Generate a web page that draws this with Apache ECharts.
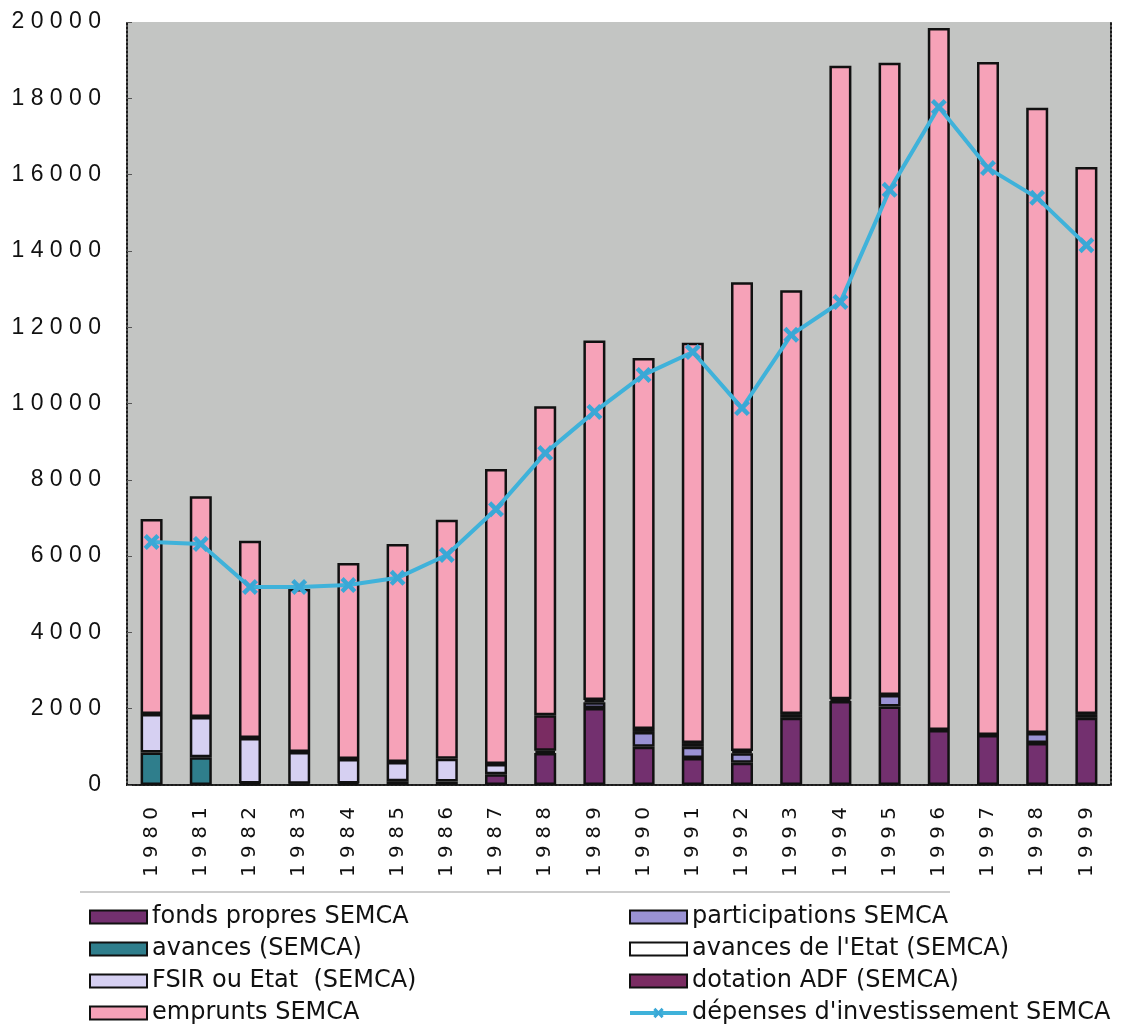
<!DOCTYPE html>
<html>
<head>
<meta charset="utf-8">
<script src="https://cdn.jsdelivr.net/npm/echarts@6/dist/echarts.min.js"></script>
<style>
  html, body { margin: 0; padding: 0; background: #ffffff; }
  #chart { width: 1138px; height: 1032px; }
</style>
</head>
<body>
<div id="chart"></div>
<script>
// Financement des investissements SEMCA, 1980-1999
const years = ['1980','1981','1982','1983','1984','1985','1986','1987','1988','1989',
               '1990','1991','1992','1993','1994','1995','1996','1997','1998','1999'];

const fondsPropres   = [0, 0, 40, 30, 40, 100, 90, 280, 840, 2020, 1000, 710, 580, 1760, 2200, 2060, 1440, 1310, 1100, 1760];
const participations = [0, 0, 0, 0, 0, 0, 0, 0, 0, 150, 390, 290, 250, 100, 50, 300, 0, 0, 260, 100];
const avancesSemca   = [850, 730, 0, 0, 0, 0, 0, 0, 0, 0, 0, 0, 0, 0, 0, 0, 0, 0, 0, 0];
const avancesEtat    = [0, 0, 0, 0, 0, 0, 0, 0, 60, 0, 0, 0, 0, 0, 0, 0, 0, 0, 0, 0];
const fsirEtat       = [1010, 1050, 1190, 835, 640, 500, 600, 270, 0, 0, 0, 0, 0, 0, 0, 0, 0, 0, 0, 0];
const dotationAdf    = [0, 0, 0, 0, 0, 0, 0, 0, 930, 60, 80, 100, 60, 0, 0, 0, 0, 0, 0, 0];
const emprunts       = [5110, 5790, 5170, 4275, 5140, 5720, 6260, 7730, 8100, 9420, 9720, 10490, 12290, 11110, 16600, 16570, 18400, 17640, 16390, 14340];
const depenses       = [6370, 6320, 5190, 5190, 5240, 5430, 6030, 7230, 8700, 9780, 10750, 11350, 9880, 11800, 12660, 15600, 17770, 16170, 15390, 14150];

const yTicks = { min: 0, max: 20000, interval: 2000 };

const legendLeft  = ['fonds propres SEMCA', 'avances (SEMCA)', 'FSIR ou Etat  (SEMCA)', 'emprunts SEMCA'];
const legendRight = ['participations SEMCA', "avances de l'Etat (SEMCA)", 'dotation ADF (SEMCA)', "dépenses d'investissement SEMCA"];
const lineName = "dépenses d'investissement SEMCA";

// spread digits apart like the printed axis figures
const spread = (s, sep) => String(s).split('').join(sep);

// empty segments are skipped so they leave no outline
const seg = arr => arr.map(v => (v === 0 ? '-' : v));

const FONT = '"Liberation Sans", Arial, sans-serif';
const WIDE = '"DejaVu Sans", "Liberation Sans", sans-serif';
const borderDots = { color: '#1a1a1a', width: 2, type: [2, 2] };

function barSeries(name, data, color) {
  return {
    name: name,
    type: 'bar',
    stack: 'financement',
    data: seg(data),
    barWidth: 22,
    itemStyle: { color: color, borderColor: '#111111', borderWidth: 2.5 }
  };
}

// square swatches for the bars, line + cross for the expenditure curve
const legendItems = names => names.map(n =>
  n === lineName ? { name: n, lineStyle: { width: 4 } } : { name: n, icon: 'rect' });

const crossPath = 'path://M0,2 L2,0 L5,3 L8,0 L10,2 L7,5 L10,8 L8,10 L5,7 L2,10 L0,8 L3,5 Z';

const legendText = { fontSize: 24, lineHeight: 24, color: '#111111', fontFamily: WIDE };

const chart = echarts.init(document.getElementById('chart'), null, { renderer: 'canvas' });

chart.setOption({
  animation: false,
  backgroundColor: '#ffffff',
  textStyle: { fontFamily: FONT },
  grid: {
    left: 127, right: 27, top: 22, bottom: 247,
    show: true, backgroundColor: '#c3c5c3', borderWidth: 0
  },
  xAxis: [
    {
      type: 'category',
      data: years,
      position: 'bottom',
      axisLine: { show: true, lineStyle: borderDots },
      axisTick: { show: false },
      axisLabel: {
        rotate: 90,
        margin: 22,
        color: '#111111',
        fontSize: 20,
        fontFamily: WIDE,
        formatter: v => spread(v, ' ')
      }
    },
    {
      type: 'category',
      data: years,
      position: 'top',
      axisLine: { show: true, lineStyle: borderDots },
      axisTick: { show: false },
      axisLabel: { show: false }
    }
  ],
  yAxis: [
    {
      type: 'value',
      min: yTicks.min, max: yTicks.max, interval: yTicks.interval,
      axisLine: { show: true, lineStyle: borderDots },
      axisTick: { show: true, inside: true, length: 5, lineStyle: { color: '#555' } },
      splitLine: { show: false },
      axisLabel: {
        margin: 26,
        color: '#111111',
        fontSize: 23,
        fontFamily: FONT,
        formatter: v => spread(v, ' ')
      }
    },
    {
      type: 'value',
      position: 'right',
      min: yTicks.min, max: yTicks.max, interval: yTicks.interval,
      axisLine: { show: true, lineStyle: borderDots },
      axisTick: { show: false },
      splitLine: { show: false },
      axisLabel: { show: false }
    }
  ],
  legend: [
    {
      data: legendItems(legendLeft),
      orient: 'vertical',
      left: 84, top: 900,
      itemWidth: 57, itemHeight: 13, itemGap: 8,
      textStyle: legendText,
      selectedMode: false
    },
    {
      data: legendItems(legendRight),
      orient: 'vertical',
      left: 623, top: 900,
      itemWidth: 57, itemHeight: 13, itemGap: 8,
      textStyle: legendText,
      selectedMode: false
    }
  ],
  graphic: [
    {
      type: 'line',
      shape: { x1: 80, y1: 892, x2: 950, y2: 892 },
      style: { stroke: '#cccccc', lineWidth: 2 },
      silent: true
    }
  ],
  series: [
    barSeries('fonds propres SEMCA', fondsPropres, '#73306f'),
    barSeries('participations SEMCA', participations, '#9a92d4'),
    barSeries('avances (SEMCA)', avancesSemca, '#2f7e8c'),
    barSeries("avances de l'Etat (SEMCA)", avancesEtat, '#ffffff'),
    barSeries('FSIR ou Etat  (SEMCA)', fsirEtat, '#d6d0f2'),
    barSeries('dotation ADF (SEMCA)', dotationAdf, '#7a2c62'),
    barSeries('emprunts SEMCA', emprunts, '#f6a2b8'),
    {
      name: lineName,
      type: 'line',
      data: depenses,
      symbol: crossPath,
      symbolSize: 16,
      lineStyle: { color: '#3fb2da', width: 4 },
      itemStyle: { color: '#3aa8d6' },
      z: 5
    }
  ]
});
</script>
</body>
</html>
